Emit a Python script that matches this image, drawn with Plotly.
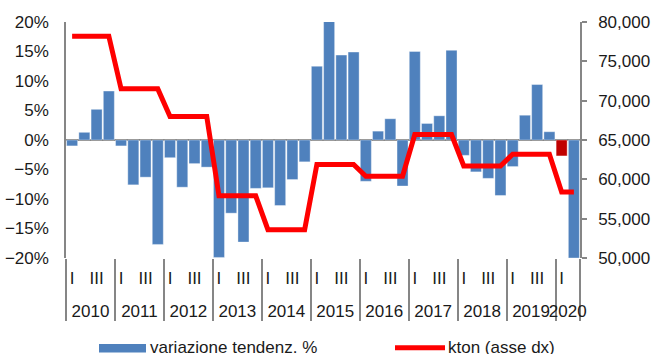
import plotly.graph_objects as go

# Quarterly year-on-year change (%) and annual volume (kton)
years = ["2010", "2011", "2012", "2013", "2014", "2015", "2016", "2017", "2018", "2019", "2020"]
quarters_per_year = [4, 4, 4, 4, 4, 4, 4, 4, 4, 4, 2]
quarter_labels = ["I", "", "III", ""]

variazione = [
    -1.0, 1.3, 5.2, 8.3,        # 2010
    -1.0, -7.6, -6.3, -17.7,    # 2011
    -3.0, -8.0, -4.0, -4.6,     # 2012
    -19.9, -12.4, -17.3, -8.2,  # 2013
    -8.1, -11.1, -6.7, -3.7,    # 2014
    12.5, 20.1, 14.4, 14.9,     # 2015
    -7.0, 1.5, 3.6, -7.8,       # 2016
    15.0, 2.8, 4.1, 15.2,       # 2017
    -2.6, -5.4, -6.5, -9.4,     # 2018
    -4.5, 4.2, 9.4, 1.4,        # 2019
    -2.7, -20.0,                # 2020
]

kton_annuo = [78200, 71500, 68000, 57900, 53600, 61900, 60400, 65700, 61700, 63200, 58400]

highlight_index = 40  # 2020 first quarter

legend_names = ["variazione tendenz. %", "kton (asse dx)"]

BLUE = "#4F81BD"
DARK_RED = "#C00000"
RED = "#FF0000"
GRAY = "#868686"
TEXT = "#1a1a1a"
FONT = "Liberation Sans, Arial, sans-serif"

# One category per quarter; the annual volume is repeated over its quarters
x_keys, x_text, kton = [], [], []
year_edges, year_centers = [-0.5], []
pos = 0
for y, n, k in zip(years, quarters_per_year, kton_annuo):
    for q in range(n):
        x_keys.append(f"{y}-Q{q + 1}")
        x_text.append(quarter_labels[q])
        kton.append(k)
    year_centers.append(pos + (n - 1) / 2)
    pos += n
    year_edges.append(pos - 0.5)

n_cat = len(x_keys)
x_range = [-0.5, n_cat - 0.5]

bar_colors = [DARK_RED if i == highlight_index else BLUE for i in range(len(variazione))]

fig = go.Figure()
fig.add_trace(go.Bar(
    x=x_keys,
    y=variazione,
    name=legend_names[0],
    marker=dict(color=bar_colors, line=dict(color="rgba(255,255,255,0.6)", width=0.6)),
    yaxis="y",
    showlegend=False,
))
fig.add_trace(go.Scatter(
    x=x_keys,
    y=kton,
    name=legend_names[1],
    mode="lines",
    line=dict(color=RED, width=5),
    yaxis="y2",
    showlegend=False,
))

# Empty traces that attach the year-separator and year-label axes
for axis, xs in (("x2", year_edges), ("x3", year_centers)):
    fig.add_trace(go.Scatter(
        x=xs, y=[None] * len(xs), xaxis=axis, yaxis="y",
        mode="lines", showlegend=False, hoverinfo="skip",
    ))

# Legend drawn below the plot: a wide swatch for each series plus its label
plot_l, plot_w, plot_b, plot_h = 66, 514, 258, 236


def px_x(px):
    return (px - plot_l) / plot_w


def px_y(py):
    return (plot_b - py) / plot_h


fig.add_shape(type="rect", xref="paper", yref="paper",
              x0=px_x(99), x1=px_x(146), y0=px_y(352.5), y1=px_y(344),
              fillcolor=BLUE, line=dict(width=0))
fig.add_shape(type="line", xref="paper", yref="paper",
              x0=px_x(395), x1=px_x(445), y0=px_y(347.7), y1=px_y(347.7),
              line=dict(color=RED, width=5))
for name, px in zip(legend_names, [148, 446]):
    fig.add_annotation(xref="paper", yref="paper", x=px_x(px), y=px_y(347.5),
                       xanchor="left", yanchor="middle", showarrow=False,
                       text=name, font=dict(family=FONT, size=17, color=TEXT))

fig.update_layout(
    width=660,
    height=354,
    margin=dict(l=66, r=80, t=22, b=96, autoexpand=False),
    paper_bgcolor="white",
    plot_bgcolor="white",
    font=dict(family=FONT, size=17, color=TEXT),
    bargap=0.1,
    # quarter labels
    xaxis=dict(
        type="category",
        range=x_range,
        tickmode="array",
        tickvals=x_keys,
        ticktext=x_text,
        tickangle=0,
        automargin=False,
        showline=False,
        showgrid=False,
        zeroline=False,
        ticks="",
        ticklabelstandoff=8,
        tickfont=dict(size=17),
    ),
    # year separators
    xaxis2=dict(
        type="linear",
        overlaying="x",
        anchor="y",
        side="bottom",
        range=x_range,
        tickmode="array",
        tickvals=year_edges,
        showticklabels=False,
        ticks="outside",
        ticklen=62,
        tickwidth=1.5,
        tickcolor=GRAY,
        showline=False,
        showgrid=False,
        zeroline=False,
        automargin=False,
    ),
    # year labels
    xaxis3=dict(
        type="linear",
        overlaying="x",
        anchor="y",
        side="bottom",
        range=x_range,
        tickmode="array",
        tickvals=year_centers,
        ticktext=years,
        tickangle=0,
        ticks="",
        ticklabelstandoff=41,
        showline=False,
        showgrid=False,
        zeroline=False,
        automargin=False,
        tickfont=dict(size=17),
    ),
    yaxis=dict(
        range=[-20, 20],
        dtick=5,
        ticksuffix="%",
        showgrid=False,
        showline=True,
        linecolor=GRAY,
        linewidth=1.5,
        zeroline=True,
        zerolinecolor=GRAY,
        zerolinewidth=2,
        ticks="",
        ticklabelstandoff=12,
        tickfont=dict(size=17),
    ),
    yaxis2=dict(
        range=[50000, 80000],
        dtick=5000,
        tickformat=",",
        overlaying="y",
        side="right",
        showgrid=False,
        showline=True,
        linecolor=GRAY,
        linewidth=1.5,
        zeroline=False,
        ticks="outside",
        ticklen=5,
        tickcolor=GRAY,
        tickwidth=1.5,
        ticklabelstandoff=8,
        tickfont=dict(size=17),
    ),
)

fig.write_html("out.html")
